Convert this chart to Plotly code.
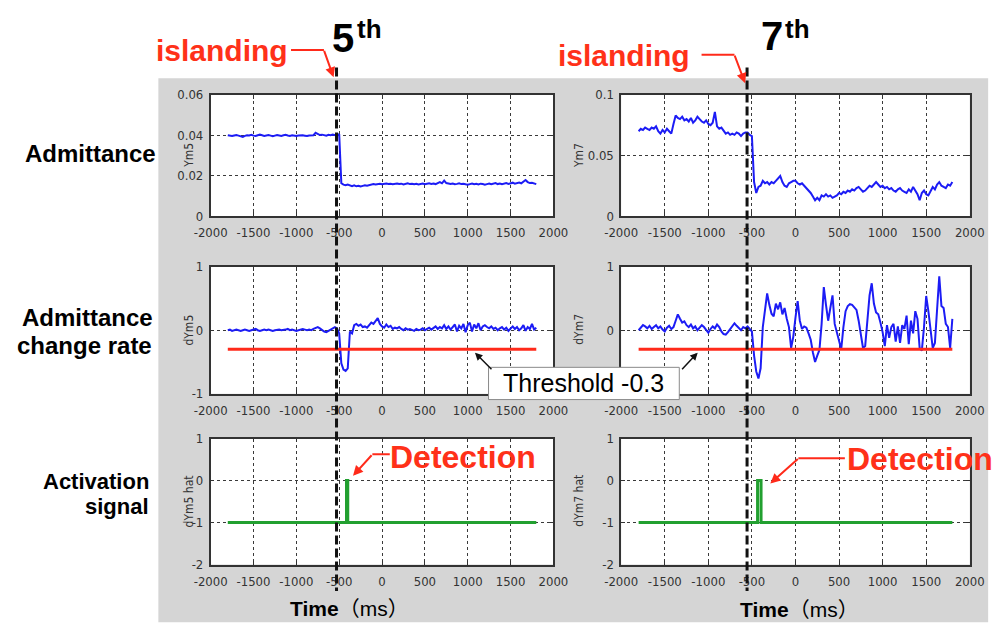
import plotly.graph_objects as go

W, H = 1008, 639

# ---- sampled traces: 25 ms step starting at -1800 ms ----
T0, STEP = -1800, 25

# admittance, 5th harmonic
ym5 = [
    0.0400, 0.0398, 0.0396, 0.0399, 0.0401, 0.0398, 0.0395, 0.0392, 0.0397, 0.0400,
    0.0399, 0.0402, 0.0398, 0.0396, 0.0400, 0.0403, 0.0400, 0.0397, 0.0399, 0.0401,
    0.0398, 0.0395, 0.0398, 0.0401, 0.0399, 0.0397, 0.0400, 0.0402, 0.0399, 0.0397,
    0.0400, 0.0398, 0.0396, 0.0399, 0.0401, 0.0400, 0.0398, 0.0396, 0.0399, 0.0401,
    0.0400, 0.0412, 0.0405, 0.0401, 0.0403, 0.0400, 0.0398, 0.0402, 0.0400, 0.0403,
    0.0401, 0.0398, 0.0406, 0.0162, 0.0155, 0.0152, 0.0156, 0.0150, 0.0148, 0.0152,
    0.0147, 0.0150, 0.0146, 0.0149, 0.0152, 0.0150, 0.0153, 0.0155, 0.0158, 0.0156,
    0.0158, 0.0160, 0.0157, 0.0159, 0.0161, 0.0158, 0.0160, 0.0157, 0.0159, 0.0161,
    0.0158, 0.0160, 0.0156, 0.0159, 0.0162, 0.0158, 0.0160, 0.0157, 0.0159, 0.0156,
    0.0158, 0.0161, 0.0157, 0.0160, 0.0162, 0.0159, 0.0161, 0.0158, 0.0163, 0.0168,
    0.0162, 0.0175, 0.0163, 0.0160, 0.0158, 0.0161, 0.0157, 0.0159, 0.0162, 0.0158,
    0.0160, 0.0157, 0.0155, 0.0158, 0.0161, 0.0157, 0.0159, 0.0156, 0.0160, 0.0158,
    0.0155, 0.0158, 0.0161, 0.0157, 0.0160, 0.0163, 0.0158, 0.0161, 0.0157, 0.0160,
    0.0163, 0.0159, 0.0162, 0.0165, 0.0160, 0.0163, 0.0166, 0.0162, 0.0170, 0.0178,
    0.0168, 0.0163, 0.0165, 0.0160, 0.0158,
]

# admittance, 7th harmonic
ym7 = [
    0.070, 0.072, 0.071, 0.073, 0.072, 0.071, 0.073, 0.072, 0.074, 0.070,
    0.068, 0.071, 0.069, 0.072, 0.070, 0.068, 0.076, 0.083, 0.081, 0.080,
    0.082, 0.079, 0.080, 0.078, 0.081, 0.077, 0.079, 0.082, 0.080, 0.078,
    0.077, 0.079, 0.076, 0.075, 0.077, 0.086, 0.074, 0.072, 0.073, 0.070,
    0.068, 0.069, 0.067, 0.068, 0.067, 0.069, 0.068, 0.066, 0.068, 0.069,
    0.069, 0.067, 0.066, 0.028, 0.019, 0.024, 0.025, 0.029, 0.027, 0.028,
    0.026, 0.028, 0.027, 0.029, 0.031, 0.033, 0.028, 0.025, 0.024, 0.027,
    0.028, 0.029, 0.029, 0.027, 0.026, 0.027, 0.025, 0.023, 0.021, 0.019,
    0.016, 0.013, 0.015, 0.013, 0.017, 0.016, 0.018, 0.016, 0.017, 0.015,
    0.016, 0.017, 0.019, 0.018, 0.020, 0.019, 0.021, 0.020, 0.022, 0.021,
    0.023, 0.024, 0.022, 0.020, 0.021, 0.023, 0.025, 0.024, 0.026, 0.028,
    0.026, 0.024, 0.025, 0.023, 0.024, 0.022, 0.023, 0.021, 0.020, 0.022,
    0.023, 0.021, 0.020, 0.019, 0.022, 0.020, 0.024, 0.021, 0.018, 0.013,
    0.019, 0.021, 0.018, 0.017, 0.020, 0.024, 0.022, 0.026, 0.028, 0.025,
    0.024, 0.023, 0.026, 0.025, 0.028,
]

# admittance change rate, 5th harmonic
dym5 = [
    0.00, 0.01, -0.01, 0.00, 0.01, 0.00, -0.01, 0.00, 0.01, 0.00,
    -0.01, 0.00, 0.01, 0.02, 0.00, -0.01, 0.00, 0.01, 0.00, 0.01,
    0.00, -0.01, 0.00, 0.01, 0.01, 0.00, 0.00, 0.01, 0.02, 0.00,
    0.01, 0.00, -0.01, 0.00, 0.01, 0.02, 0.01, 0.00, 0.01, 0.00,
    0.02, 0.04, 0.05, 0.03, 0.00, -0.02, -0.03, -0.01, 0.00, 0.02,
    0.05, 0.03, -0.05, -0.52, -0.62, -0.64, -0.60, -0.02, -0.05, 0.08,
    0.10, 0.07, 0.09, 0.05, 0.06, 0.04, 0.08, 0.12, 0.10, 0.14,
    0.19, 0.10, 0.06, 0.04, 0.09, 0.05, 0.07, 0.02, 0.04, 0.03,
    0.05, 0.02, 0.00, 0.03, 0.01, 0.02, 0.00, -0.01, 0.02, 0.00,
    0.01, 0.03, 0.00, 0.02, 0.04, 0.01, 0.03, 0.06, 0.02, 0.05,
    0.03, 0.08, 0.02, 0.06, 0.01, 0.05, 0.09, -0.02, 0.07, 0.03,
    0.10, -0.03, 0.08, 0.12, -0.02, 0.09, 0.03, 0.11, 0.00, 0.06,
    0.08, 0.05, 0.03, 0.06, 0.02, 0.04, 0.00, 0.03, 0.05, 0.01,
    0.04, -0.01, 0.03, 0.06, 0.02, 0.05, 0.00, 0.03, 0.08, -0.01,
    0.05, 0.02, 0.10, 0.01, 0.04,
]

# admittance change rate, 7th harmonic
dym7 = [
    0.00, 0.04, 0.08, 0.06, 0.03, 0.07, 0.02, 0.05, 0.08, 0.03,
    0.06, 0.01, -0.02, 0.04, 0.07, 0.02, 0.05, 0.15, 0.25, 0.18,
    0.12, 0.14, 0.08, 0.05, 0.09, 0.03, 0.06, 0.00, 0.04, 0.08,
    0.05, 0.01, -0.04, 0.02, 0.06, 0.03, 0.09, 0.05, -0.02, -0.06,
    -0.07, -0.03, 0.02, 0.06, 0.11, 0.07, 0.03, 0.00, 0.05, 0.03,
    0.06, 0.02, -0.02, -0.40, -0.65, -0.76, -0.60, 0.05, 0.30, 0.58,
    0.40, 0.26, 0.22, 0.42, 0.33, 0.44, 0.25, 0.35, 0.18, 0.05,
    -0.28, -0.10, 0.20, 0.46, 0.15, 0.02, 0.06, 0.04, -0.05, -0.15,
    -0.35, -0.50, -0.40, -0.31, 0.10, 0.68, 0.40, 0.15, 0.35, 0.55,
    0.10, -0.05, -0.20, -0.30, 0.05, 0.30, 0.38, 0.41, 0.40, 0.36,
    0.32, 0.15, -0.05, -0.28, -0.25, 0.10, 0.55, 0.74, 0.42, 0.28,
    0.25, 0.12, -0.03, -0.25, 0.08, -0.12, 0.05, 0.10, -0.18, 0.06,
    -0.20, 0.08, 0.02, 0.23, -0.22, 0.15, -0.05, 0.30, 0.18, -0.28,
    -0.32, 0.05, 0.54, 0.30, 0.05, -0.28, -0.20, 0.40, 0.85, 0.38,
    0.35, 0.10, 0.05, -0.28, 0.18,
]

# activation signals as step breakpoints
act5_t = [-1800, -415, -415, -400, -400, 1800]
act5_v = [-1, -1, 0, 0, -1, -1]
act7_t = [-1800, -435, -435, -395, -395, 1800]
act7_v = [-1, -1, 0, 0, -1, -1]

threshold_t = [-1800, 1800]
threshold_v = [-0.3, -0.3]

x_tick_vals = [-2000, -1500, -1000, -500, 0, 500, 1000, 1500, 2000]
x_tick_text = ["-2000", "-1500", "-1000", "-500", "0", "500", "1000", "1500", "2000"]
ym5_ticks = [0, 0.02, 0.04, 0.06]
ym5_text = ["0", "0.02", "0.04", "0.06"]
ym7_ticks = [0, 0.05, 0.1]
ym7_text = ["0", "0.05", "0.1"]
dy_ticks = [-1, 0, 1]
dy_text = ["-1", "0", "1"]
act_ticks = [-2, -1, 0, 1]
act_text = ["-2", "-1", "0", "1"]


def times(vals):
    return [T0 + STEP * i for i in range(len(vals))]


def fx(px):
    return px / W


def fy(py):
    return 1 - py / H


BLUE = "#1c1cf5"
RED = "#ff2a1a"
GREEN = "#22a030"
LABEL_RED = "#ff3119"
NARROW = "Liberation Sans Narrow, DejaVu Sans Condensed, Liberation Sans, sans-serif"
TICK_FONT = dict(family=NARROW, size=13, color="#333333")

LEFT = [fx(200), fx(554)]
RIGHT = [fx(624), fx(984)]
ROW1 = [fy(214), fy(90)]
ROW2 = [fy(396), fy(266)]
ROW3 = [fy(571), fy(442)]

fig = go.Figure()

line_specs = [
    (times(ym5), ym5, "x", "y", BLUE, 2),
    (times(ym7), ym7, "x2", "y2", BLUE, 2),
    (times(dym5), dym5, "x3", "y3", BLUE, 2),
    (threshold_t, threshold_v, "x3", "y3", RED, 3),
    (times(dym7), dym7, "x4", "y4", BLUE, 2),
    (threshold_t, threshold_v, "x4", "y4", RED, 3),
    (act5_t, act5_v, "x5", "y5", GREEN, 3),
    (act7_t, act7_v, "x6", "y6", GREEN, 3),
]
for xs, ys, xa, ya, col, w in line_specs:
    fig.add_trace(go.Scatter(x=xs, y=ys, xaxis=xa, yaxis=ya, mode="lines",
                             line=dict(color=col, width=w), showlegend=False,
                             hoverinfo="skip"))


def xaxis(domain, anchor):
    return dict(domain=domain, anchor=anchor, range=[-2000, 2000],
                tickmode="array", tickvals=x_tick_vals, ticktext=x_tick_text,
                showgrid=True, gridcolor="#3a3a3a", griddash="dot", gridwidth=1,
                zeroline=False, showline=True, linecolor="#333333", linewidth=1.5,
                mirror="ticks", ticks="inside", ticklen=4, tickcolor="#333333",
                tickfont=TICK_FONT, ticklabelstandoff=4)


def yaxis(domain, anchor, rng, vals, text):
    return dict(domain=domain, anchor=anchor, range=rng,
                tickmode="array", tickvals=vals, ticktext=text,
                showgrid=True, gridcolor="#3a3a3a", griddash="dot", gridwidth=1,
                zeroline=False, showline=True, linecolor="#333333", linewidth=1.5,
                mirror="ticks", ticks="inside", ticklen=4, tickcolor="#333333",
                tickfont=TICK_FONT, ticklabelstandoff=3)


layout_axes = dict(
    xaxis=xaxis(LEFT, "y"), yaxis=yaxis(ROW1, "x", [0, 0.06], ym5_ticks, ym5_text),
    xaxis2=xaxis(RIGHT, "y2"), yaxis2=yaxis(ROW1, "x2", [0, 0.1], ym7_ticks, ym7_text),
    xaxis3=xaxis(LEFT, "y3"), yaxis3=yaxis(ROW2, "x3", [-1, 1], dy_ticks, dy_text),
    xaxis4=xaxis(RIGHT, "y4"), yaxis4=yaxis(ROW2, "x4", [-1, 1], dy_ticks, dy_text),
    xaxis5=xaxis(LEFT, "y5"), yaxis5=yaxis(ROW3, "x5", [-2, 1], act_ticks, act_text),
    xaxis6=xaxis(RIGHT, "y6"), yaxis6=yaxis(ROW3, "x6", [-2, 1], act_ticks, act_text),
)

shapes = []
# grey panel behind the six plots
shapes.append(dict(type="rect", xref="paper", yref="paper", x0=fx(146), x1=fx(1003),
                   y0=fy(630), y1=fy(73), fillcolor="#d5d5d5", line=dict(width=0),
                   layer="below"))
# white plot areas
for xd in (LEFT, RIGHT):
    for yd in (ROW1, ROW2, ROW3):
        shapes.append(dict(type="rect", xref="paper", yref="paper", x0=xd[0], x1=xd[1],
                           y0=yd[0], y1=yd[1], fillcolor="white", line=dict(width=0),
                           layer="below"))
# islanding instants
for xpix in (330, 754):
    shapes.append(dict(type="line", xref="paper", yref="paper", x0=fx(xpix), x1=fx(xpix),
                       y0=fy(62), y1=fy(598), line=dict(color="#111111", width=3, dash="9px,4px"),
                       layer="above"))
# leader lines of the callouts
for (xa, ya, xb, yb) in [(283, 44, 317, 44), (707, 49, 741, 49), (385, 458, 367, 458), (855, 462, 807, 462)]:
    shapes.append(dict(type="line", xref="paper", yref="paper", x0=fx(xa), x1=fx(xb),
                       y0=fy(ya), y1=fy(yb), line=dict(color=RED, width=2), layer="above"))
# threshold callout box
shapes.append(dict(type="rect", xref="paper", yref="paper", x0=fx(487), x1=fx(684),
                   y0=fy(402), y1=fy(369), fillcolor="white",
                   line=dict(color="#8a8a8a", width=1), layer="above"))

BOLD = "Liberation Sans, Arial, sans-serif"
ann = []


def text(px, py, s, size, color="black", xanchor="center", family=BOLD, angle=0):
    ann.append(dict(x=fx(px), y=fy(py), xref="paper", yref="paper", text=s, showarrow=False,
                    xanchor=xanchor, yanchor="middle", textangle=angle,
                    font=dict(family=family, size=size, color=color)))


def arrow(hx, hy, tx, ty, color, width):
    ann.append(dict(x=fx(hx), y=fy(hy), xref="paper", yref="paper", text="",
                    showarrow=True, ax=tx - hx, ay=ty - hy, arrowhead=2, arrowsize=1,
                    arrowwidth=width, arrowcolor=color, standoff=0, startstandoff=0))


# harmonic order headings
text(337, 32, "<b>5</b>", 40)
text(364, 23, "<b>th</b>", 26)
text(780, 30, "<b>7</b>", 40)
text(806, 23, "<b>th</b>", 26)

# islanding callouts
text(212, 45, "<b>islanding</b>", 30, LABEL_RED)
text(627, 50, "<b>islanding</b>", 30, LABEL_RED)
arrow(327, 72, 317, 44, RED, 2)
arrow(752, 78, 741, 49, RED, 2)

# detection callouts
text(461, 461, "<b>Detection</b>", 32, LABEL_RED)
text(933, 463, "<b>Detection</b>", 32, LABEL_RED)
arrow(347, 480, 367, 458, RED, 2)
arrow(778, 488, 807, 462, RED, 2)

# threshold callout
text(585, 385, "Threshold -0.3", 25)
arrow(473, 354, 491, 372, "#111111", 1.5)
arrow(703, 354, 686, 372, "#111111", 1.5)

# row labels
text(146, 150, "<b>Admittance</b>", 24, xanchor="right")
text(143, 318, "<b>Admittance</b>", 24, xanchor="right")
text(141, 347, "<b>change rate</b>", 24, xanchor="right")
text(138, 486, "<b>Activation</b>", 22, xanchor="right")
text(138, 511, "<b>signal</b>", 22, xanchor="right")

# axis titles
for px_, py_, s in [(178, 152, "Ym5"), (178, 331, "dYm5"), (178, 506, "dYm5 hat"),
                    (581, 152, "Ym7"), (581, 330, "dYm7"), (581, 506, "dYm7 hat")]:
    text(px_, py_, s, 12, "#333333", family=NARROW, angle=-90)

TIME_FONT = "Liberation Sans, Noto Sans CJK JP, sans-serif"
text(343, 616, "<b>Time</b>（ms）", 21, family=TIME_FONT)
text(808, 617, "<b>Time</b>（ms）", 21, family=TIME_FONT)

fig.update_layout(
    width=W, height=H,
    margin=dict(l=0, r=0, t=0, b=0),
    paper_bgcolor="white",
    plot_bgcolor="rgba(0,0,0,0)",
    showlegend=False,
    shapes=shapes,
    annotations=ann,
    **layout_axes,
)

fig.write_html("out.html")
